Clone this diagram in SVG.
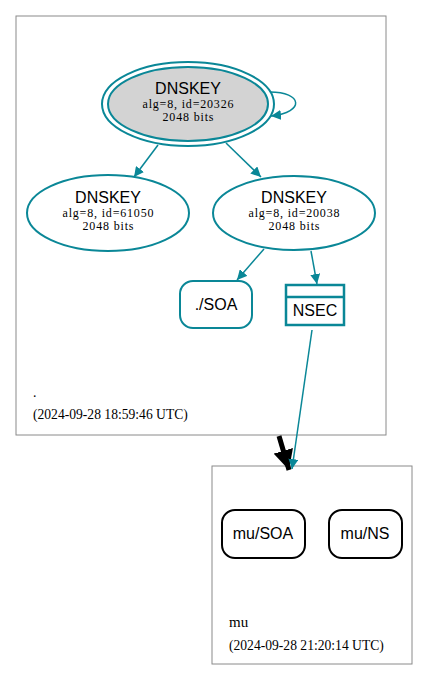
<svg xmlns="http://www.w3.org/2000/svg" width="428" height="681" viewBox="0 0 428 681">
<defs>
<style>
.cl{fill:#fff;stroke:#8a8a8a;stroke-width:1}
.n{fill:#fff;stroke:#0a8797;stroke-width:2}
.e{fill:none;stroke:#0a8797;stroke-width:1.5}
.h{font-family:"Liberation Sans",Arial,sans-serif;font-size:16px;text-anchor:middle;fill:#000}
.s{font-family:"Liberation Serif","Times New Roman",serif;font-size:12px;text-anchor:middle;fill:#000}
.l{font-family:"Liberation Serif","Times New Roman",serif;font-size:13.6px;fill:#000}
.m{fill:#fff;stroke:#000;stroke-width:2}
</style>
<marker id="ah" viewBox="0 0 10 10" refX="10" refY="5" markerWidth="10" markerHeight="10" markerUnits="userSpaceOnUse" orient="auto">
<path d="M0,0L10,5L0,10z" fill="#0a8797"/>
</marker>
<marker id="bh" viewBox="0 0 10 10" refX="10" refY="5" markerWidth="4" markerHeight="4" orient="auto">
<path d="M0,0L10,5L0,10z" fill="#000"/>
</marker>
</defs>
<rect width="428" height="681" fill="#fff"/>
<g id="cluster-root">
<rect class="cl" x="16" y="16" width="370" height="419"/>
<text class="l" x="33" y="397">.</text>
<text class="l" x="33" y="419">(2024-09-28 18:59:46 UTC)</text>
</g>
<g id="cluster-mu">
<rect class="cl" x="212" y="466" width="200" height="198"/>
<text class="l" x="229" y="627" style="font-size:15px">mu</text>
<text class="l" x="229" y="650">(2024-09-28 21:20:14 UTC)</text>
</g>
<g id="connectors">
<path class="e" d="M270,92 C302,92 306,112 271,116" marker-end="url(#ah)"/>
<path class="e" d="M158,145 L134,177" marker-end="url(#ah)"/>
<path class="e" d="M226,143 L261,177" marker-end="url(#ah)"/>
<path class="e" d="M264,249 L237,280" marker-end="url(#ah)"/>
<path class="e" d="M311,251 L317,284" marker-end="url(#ah)"/>
<path d="M279,436 L289,470" stroke="#000" stroke-width="5" fill="none" marker-end="url(#bh)"/>
<path class="e" d="M312,330 L292,469" marker-end="url(#ah)"/>
</g>
<g id="dnskey-20326">
<ellipse class="n" cx="188" cy="104" rx="86" ry="42"/>
<ellipse class="n" cx="188" cy="104" rx="80" ry="37" style="fill:#d3d3d3"/>
<text class="h" x="188" y="94">DNSKEY</text>
<text class="s" x="188" y="108" textLength="91" lengthAdjust="spacing">alg=8, id=20326</text>
<text class="s" x="188" y="121" textLength="51" lengthAdjust="spacing">2048 bits</text>
</g>
<g id="dnskey-61050">
<ellipse class="n" cx="108" cy="213" rx="81" ry="38"/>
<text class="h" x="108" y="203">DNSKEY</text>
<text class="s" x="108" y="217" textLength="91" lengthAdjust="spacing">alg=8, id=61050</text>
<text class="s" x="108" y="230" textLength="51" lengthAdjust="spacing">2048 bits</text>
</g>
<g id="dnskey-20038">
<ellipse class="n" cx="294" cy="213" rx="81" ry="37"/>
<text class="h" x="294" y="203">DNSKEY</text>
<text class="s" x="294" y="217" textLength="91" lengthAdjust="spacing">alg=8, id=20038</text>
<text class="s" x="294" y="230" textLength="51" lengthAdjust="spacing">2048 bits</text>
</g>
<g id="soa">
<rect class="n" x="180" y="281" width="72" height="47" rx="13"/>
<text class="h" x="216" y="310">./SOA</text>
</g>
<g id="nsec">
<rect class="n" x="286" y="285" width="58" height="40" style="stroke-width:2.5"/>
<line x1="286" y1="297" x2="344" y2="297" stroke="#0a8797" stroke-width="2.5"/>
<text class="h" x="315" y="316">NSEC</text>
</g>
<g id="mu-soa">
<rect class="m" x="222" y="510" width="83" height="48" rx="13"/>
<text class="h" x="263" y="539">mu/SOA</text>
</g>
<g id="mu-ns">
<rect class="m" x="329" y="510" width="73" height="48" rx="13"/>
<text class="h" x="365" y="539">mu/NS</text>
</g>
</svg>
